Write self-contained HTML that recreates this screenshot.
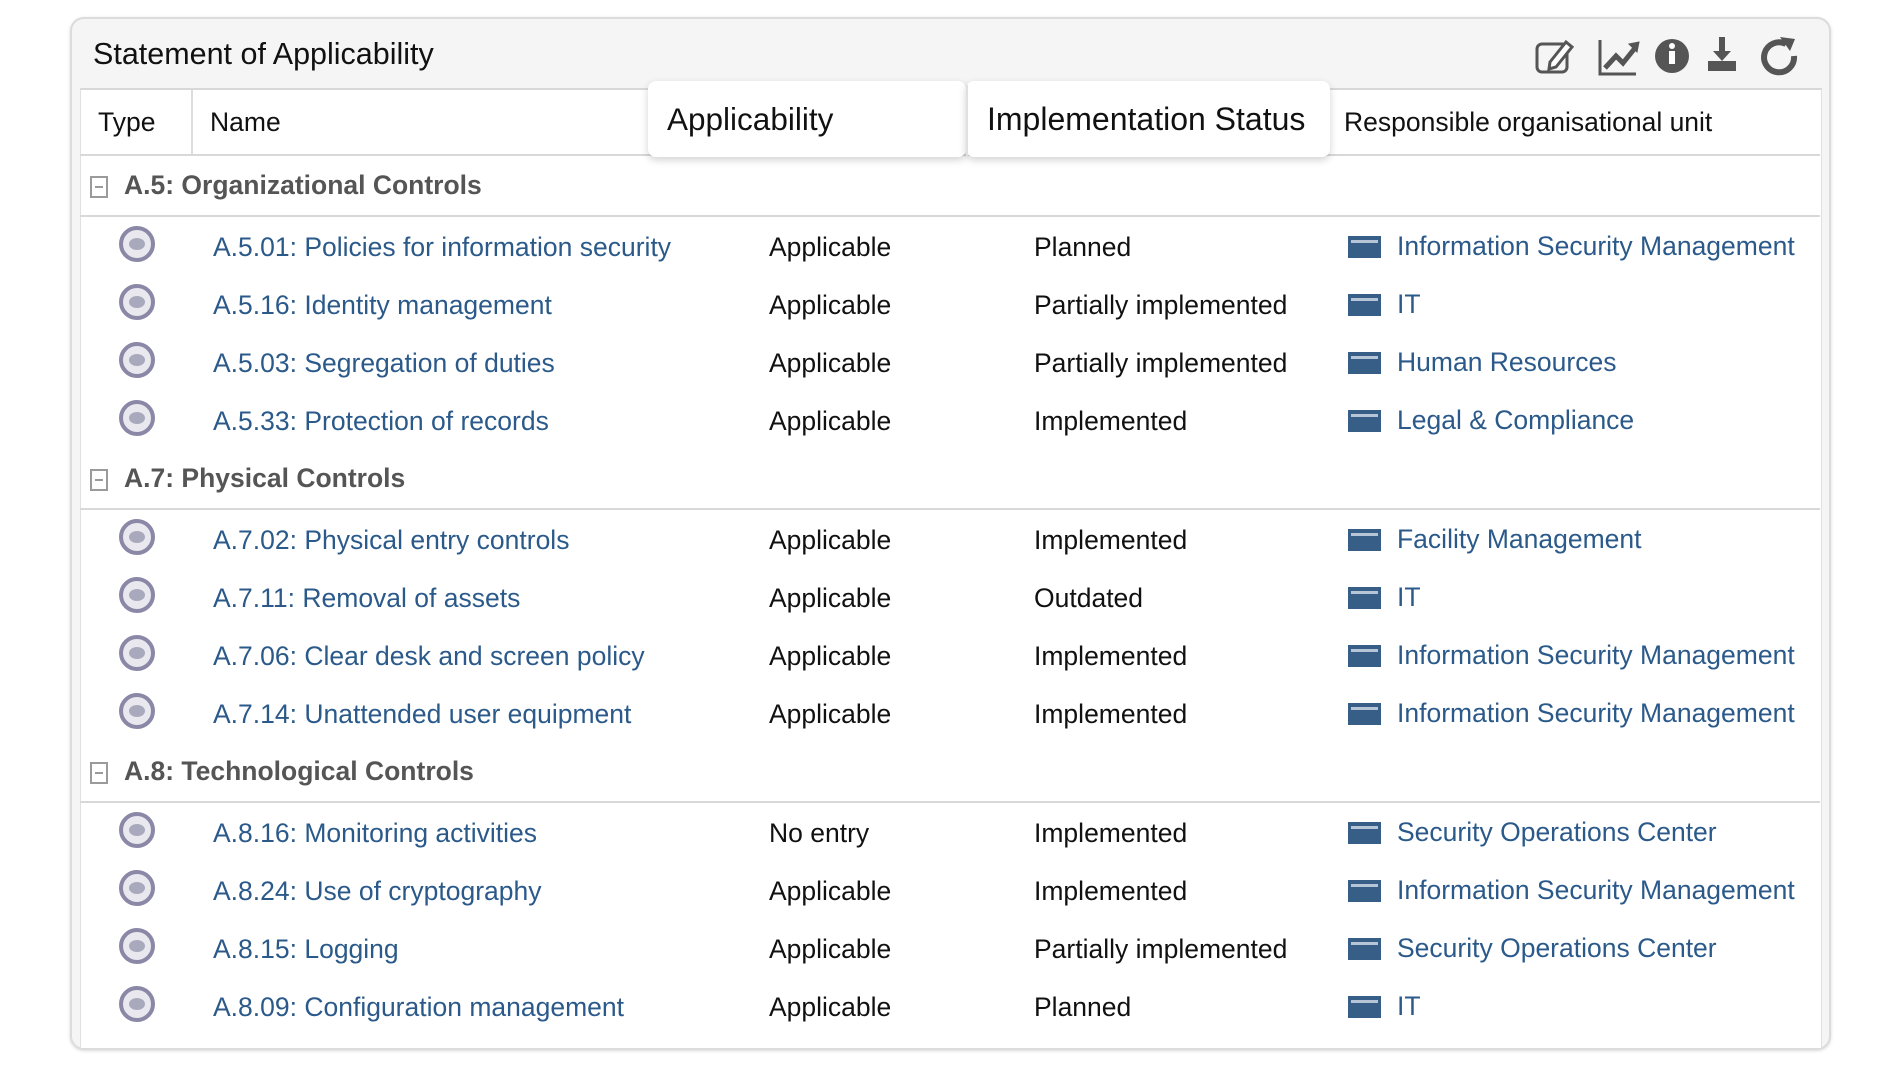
<!DOCTYPE html>
<html><head><meta charset="utf-8"><style>
body{margin:0;width:1899px;height:1069px;background:#fff;font-family:"Liberation Sans",Arial,sans-serif;position:relative;overflow:hidden}
.a{position:absolute;white-space:nowrap}
.card{position:absolute;left:70px;top:17px;width:1757px;height:1029px;border:2px solid #dcdcdc;border-radius:14px;background:#f5f5f5;box-shadow:0 1px 3px rgba(0,0,0,.15)}
.tbl{position:absolute;left:80px;top:88px;width:1740px;height:958px;background:#fff;border-top:2px solid #d8d8d8;border-left:1px solid #e0e0e0;border-right:1px solid #e0e0e0}
.hl{position:absolute;left:80px;width:1740px;height:2px;background:#d8d8d8}
.lnk{color:#2b5a8a;font-size:26.5px}
.txt{color:#111;font-size:26.5px}
.grp{color:#555;font-size:26.5px;font-weight:bold}
.eye{position:absolute;width:28px;height:28px;border:4px solid #8a88a6;border-radius:50%;background:#e8e8ee;box-sizing:content-box}
.eye:after{content:"";position:absolute;left:6px;top:8px;width:16px;height:12px;border-radius:50%;background:#a9a9bd}
.org{position:absolute;width:33px;height:22px;background:#365e87}
.org:after{content:"";position:absolute;left:3px;top:4px;width:27px;height:3px;background:#b7c6d6}
.box{position:absolute;width:14px;height:18px;border:2px solid #9a9a9a}
.box:after{content:"";position:absolute;left:3px;top:8px;width:8px;height:2px;background:#9a9a9a}
.th{position:absolute;top:81px;height:76px;background:#fff;box-shadow:0 3px 8px rgba(0,0,0,.18);border-radius:8px}
</style></head><body>
<div class="card"></div>
<div class="a" style="left:93px;top:37px;font-size:30.5px;color:#111">Statement of Applicability</div>
<svg class="a" style="left:1530px;top:34px" width="270" height="42" viewBox="0 0 270 42">
<g fill="#555" stroke="#555">
<rect x="7" y="10" width="30" height="28" rx="5" fill="none" stroke-width="3"/>
<path d="M20 28 L36 8 L42 13 L26 33 L19 35 Z" fill="#fff" stroke-width="3"/>
<path d="M70 6 V40 H106" fill="none" stroke-width="3"/>
<path d="M75 34 L86 22 L93 29 L105 14" fill="none" stroke-width="5"/>
<path d="M99 10 L109 8 L107 18 Z" stroke-width="1"/>
<circle cx="142" cy="22" r="17" stroke="none"/>
<rect x="139" y="17" width="6" height="13" fill="#fff" stroke="none"/><circle cx="142" cy="12" r="3" fill="#fff" stroke="none"/>
<path d="M192 3 V20" stroke-width="6" fill="none"/><path d="M183 17 L192 27 L201 17 Z" stroke="none"/>
<rect x="178" y="27" width="28" height="10" stroke="none"/>
<path d="M264 22 A15 15 0 1 1 256 10" fill="none" stroke-width="6"/>
<path d="M250 3 L265 5 L260 17 Z" stroke="none"/>
</g></svg>
<div class="tbl"></div>
<div class="a" style="left:191px;top:90px;width:2px;height:64px;background:#dcdcdc"></div>
<div class="hl" style="top:154px"></div>
<div class="th" style="left:648px;width:318px"></div>
<div class="th" style="left:966px;width:364px"></div>
<div class="a" style="left:966px;top:85px;width:2px;height:72px;background:#e0e0e0"></div>
<div class="a txt" style="left:98px;top:107px">Type</div>
<div class="a txt" style="left:210px;top:107px">Name</div>
<div class="a" style="left:667px;top:101px;font-size:31.5px;color:#111">Applicability</div>
<div class="a" style="left:987px;top:101px;font-size:32px;color:#111">Implementation Status</div>
<div class="a txt" style="left:1344px;top:107px">Responsible organisational unit</div>

<div class="box" style="left:90px;top:176px"></div><div class="a grp" style="left:124px;top:170px">A.5: Organizational Controls</div>
<div class="hl" style="top:215px"></div>
<div class="box" style="left:90px;top:469px"></div><div class="a grp" style="left:124px;top:463px">A.7: Physical Controls</div>
<div class="hl" style="top:508px"></div>
<div class="box" style="left:90px;top:762px"></div><div class="a grp" style="left:124px;top:756px">A.8: Technological Controls</div>
<div class="hl" style="top:801px"></div>

<div id="rows"></div>
<script>
var R=[[247,"A.5.01: Policies for information security","Applicable","Planned","Information Security Management"],
[305,"A.5.16: Identity management","Applicable","Partially implemented","IT"],
[363,"A.5.03: Segregation of duties","Applicable","Partially implemented","Human Resources"],
[421,"A.5.33: Protection of records","Applicable","Implemented","Legal &amp; Compliance"],
[540,"A.7.02: Physical entry controls","Applicable","Implemented","Facility Management"],
[598,"A.7.11: Removal of assets","Applicable","Outdated","IT"],
[656,"A.7.06: Clear desk and screen policy","Applicable","Implemented","Information Security Management"],
[714,"A.7.14: Unattended user equipment","Applicable","Implemented","Information Security Management"],
[833,"A.8.16: Monitoring activities","No entry","Implemented","Security Operations Center"],
[891,"A.8.24: Use of cryptography","Applicable","Implemented","Information Security Management"],
[949,"A.8.15: Logging","Applicable","Partially implemented","Security Operations Center"],
[1007,"A.8.09: Configuration management","Applicable","Planned","IT"]];
var h="";R.forEach(function(r){var y=r[0];
h+='<div class="eye" style="left:119px;top:'+(y-21)+'px"></div>';
h+='<div class="a lnk" style="left:213px;top:'+(y-15)+'px">'+r[1]+'</div>';
h+='<div class="a txt" style="left:769px;top:'+(y-15)+'px">'+r[2]+'</div>';
h+='<div class="a txt" style="left:1034px;top:'+(y-15)+'px">'+r[3]+'</div>';
h+='<div class="org" style="left:1348px;top:'+(y-11)+'px"></div>';
h+='<div class="a lnk" style="left:1397px;top:'+(y-16)+'px">'+r[4]+'</div>';});
document.getElementById("rows").innerHTML=h;
</script>
</body></html>
